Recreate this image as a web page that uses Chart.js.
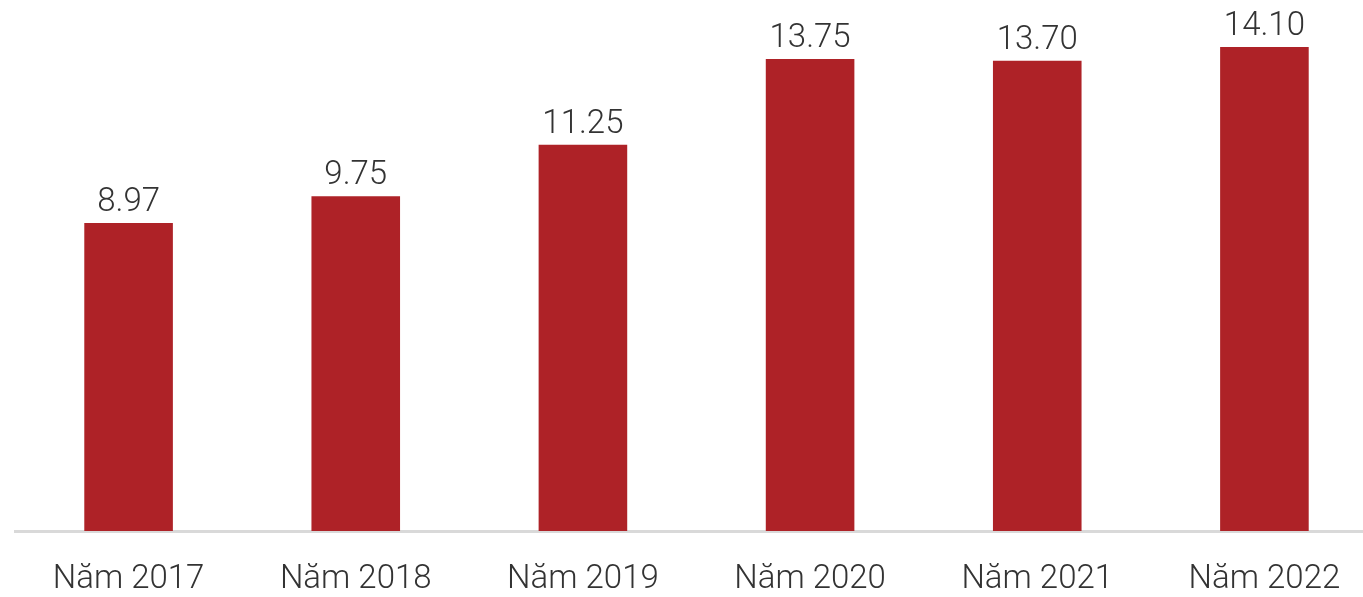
<!DOCTYPE html>
<html><head><meta charset="utf-8">
<script src="https://cdn.jsdelivr.net/npm/chart.js@4"></script>
<style>
html,body{margin:0;padding:0;background:#fff;overflow:hidden;}
#wrap{width:1378px;height:597px;position:relative;}
</style></head><body>
<div id="wrap"><canvas id="c"></canvas></div>
<script>
const categories = ["Năm 2017","Năm 2018","Năm 2019","Năm 2020","Năm 2021","Năm 2022"];
const values = [8.97, 9.75, 11.25, 13.75, 13.70, 14.10];
const valueLabels = ["8.97","9.75","11.25","13.75","13.70","14.10"];

const labelPlugin = {
  id:'vlabels',
  afterDatasetsDraw(chart){
    const ctx = chart.ctx;
    const meta = chart.getDatasetMeta(0);
    ctx.save();
    ctx.font = '300 33px Roboto';
    ctx.fillStyle = '#333333';
    ctx.textAlign = 'center';
    ctx.textBaseline = 'alphabetic';
    meta.data.forEach((bar,i)=>{
      ctx.fillText(valueLabels[i], bar.x, bar.y - 12);
    });
    ctx.restore();
  }
};

new Chart(document.getElementById('c'), {
  type:'bar',
  data:{labels:categories, datasets:[{data:values, backgroundColor:'#ae2227', barPercentage:0.39, categoryPercentage:1}]},
  options:{
    responsive:true, maintainAspectRatio:false, animation:false,
    layout:{padding:{left:15,right:0,top:16,bottom:0}},
    plugins:{legend:{display:false}, tooltip:{enabled:false}},
    scales:{
      x:{grid:{display:false}, border:{display:true,color:'#d9d9d9',width:3},
         ticks:{color:'#333333', font:{family:'Roboto', size:33, weight:'300'}, padding:21},
         afterFit(scale){ scale.height = 66; }},
      y:{display:false, min:0, max:15}
    }
  },
  plugins:[labelPlugin]
});
</script>
</body></html>
